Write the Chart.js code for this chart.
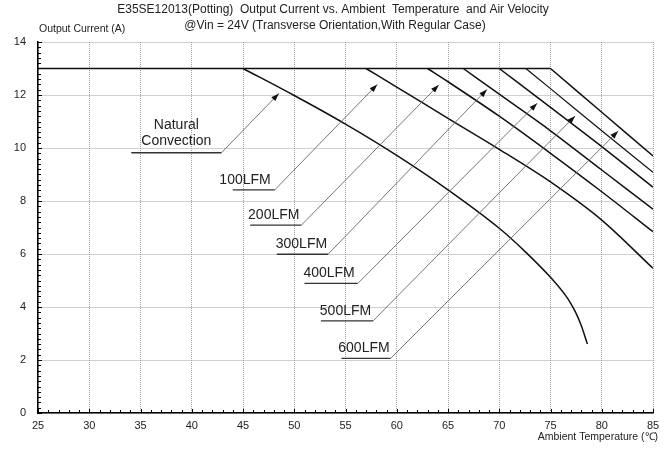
<!DOCTYPE html>
<html>
<head>
<meta charset="utf-8">
<script src="https://cdn.jsdelivr.net/npm/chart.js@4/dist/chart.umd.min.js"></script>
<style>
  body { margin: 0; background: #fff; }
  canvas { display: block; }
</style>
</head>
<body>
<canvas id="deratingChart" width="668" height="451"></canvas>
<script>
// derating curves (temp in degC, current in A)
const ratedTemp = [25, 75];
const ratedCurrent = [13, 13];

const naturalTemp = [45, 50, 55, 60, 65, 70, 72.5, 75, 76.5, 77, 77.5, 78, 78.6];
const naturalCurrent = [13, 11.98, 10.9, 9.72, 8.42, 6.97, 6.1, 5.12, 4.42, 4.12, 3.76, 3.3, 2.6];

const lfm100Temp = [57, 60, 65, 70, 75, 80, 85];
const lfm100Current = [13, 12.3, 11.12, 9.95, 8.72, 7.28, 5.46];

const lfm200Temp = [63, 65, 70, 75, 80, 85];
const lfm200Current = [13, 12.5, 11.2, 9.8, 8.35, 6.84];

const lfm300Temp = [66.5, 70, 75, 80, 85];
const lfm300Current = [13, 12.03, 10.65, 9.17, 7.69];

const lfm400Temp = [70, 75, 80, 85];
const lfm400Current = [13, 11.53, 10.05, 8.52];

const lfm500Temp = [72.6, 75, 80, 85];
const lfm500Current = [13, 12.24, 10.65, 9.08];

const lfm600Temp = [75, 80, 85];
const lfm600Current = [13, 11.35, 9.7];

const curveLabels = ["Natural Convection", "100LFM", "200LFM", "300LFM", "400LFM", "500LFM", "600LFM"];
const xTicks = [25, 30, 35, 40, 45, 50, 55, 60, 65, 70, 75, 80, 85];
const yTicks = [0, 2, 4, 6, 8, 10, 12, 14];

// callout placement (data units): underline from..to at level, arrow tip, text centre
const callouts = [
  { lines: ["Natural", "Convection"], from: 34.1, to: 42.9, at: 9.82, tipT: 48.5, tipI: 12.06, textT: 38.5 },
  { lines: ["100LFM"], from: 44.0, to: 48.1, at: 8.42, tipT: 58.1, tipI: 12.4, textT: 45.2 },
  { lines: ["200LFM"], from: 45.7, to: 50.7, at: 7.09, tipT: 64.1, tipI: 12.38, textT: 48.0 },
  { lines: ["300LFM"], from: 48.3, to: 53.3, at: 5.99, tipT: 68.8, tipI: 12.21, textT: 50.7 },
  { lines: ["400LFM"], from: 51.0, to: 56.2, at: 4.89, tipT: 73.7, tipI: 11.69, textT: 53.4 },
  { lines: ["500LFM"], from: 52.6, to: 57.7, at: 3.48, tipT: 77.4, tipI: 11.21, textT: 55.0 },
  { lines: ["600LFM"], from: 54.6, to: 59.4, at: 2.06, tipT: 81.6, tipI: 10.64, textT: 56.8 }
];

const FONT = "'Liberation Sans', Arial, sans-serif";

function pts(t, c) {
  return t.map((v, i) => ({ x: v, y: c[i] }));
}

function curve(label, t, c, width) {
  return {
    label: label,
    data: pts(t, c),
    borderColor: "#111",
    borderWidth: width || 1.5,
    pointRadius: 0,
    fill: false,
    cubicInterpolationMode: "monotone"
  };
}

const calloutPlugin = {
  id: "callouts",
  afterDatasetsDraw(chart) {
    const ctx = chart.ctx;
    const x = chart.scales.x, y = chart.scales.y;
    ctx.save();
    callouts.forEach(c => {
      const x0 = x.getPixelForValue(c.from);
      const x1 = x.getPixelForValue(c.to);
      const yy = y.getPixelForValue(c.at);
      const tx = x.getPixelForValue(c.tipT);
      const ty = y.getPixelForValue(c.tipI);

      ctx.setLineDash([]);
      ctx.strokeStyle = "#333";
      ctx.lineWidth = 1.3;
      ctx.beginPath();
      ctx.moveTo(x0, yy);
      ctx.lineTo(x1, yy);
      ctx.stroke();

      ctx.strokeStyle = "#666";
      ctx.lineWidth = 0.9;
      ctx.beginPath();
      ctx.moveTo(x1, yy);
      ctx.lineTo(tx, ty);
      ctx.stroke();

      // arrow head
      const ang = Math.atan2(ty - yy, tx - x1);
      const len = 8, half = 2.8;
      ctx.fillStyle = "#111";
      ctx.beginPath();
      ctx.moveTo(tx, ty);
      ctx.lineTo(tx - len * Math.cos(ang) + half * Math.sin(ang), ty - len * Math.sin(ang) - half * Math.cos(ang));
      ctx.lineTo(tx - len * Math.cos(ang) - half * Math.sin(ang), ty - len * Math.sin(ang) + half * Math.cos(ang));
      ctx.closePath();
      ctx.fill();

      ctx.fillStyle = "#222";
      ctx.font = "14px " + FONT;
      ctx.textAlign = "center";
      ctx.textBaseline = "alphabetic";
      const cx = x.getPixelForValue(c.textT);
      const n = c.lines.length;
      const base = n > 1 ? yy - 8 : yy - 6;
      c.lines.forEach((s, i) => {
        ctx.fillText(s, cx, base - (n - 1 - i) * 16);
      });
    });
    ctx.restore();
  }
};

const frameTextPlugin = {
  id: "frameText",
  afterDraw(chart) {
    const ctx = chart.ctx;
    const x = chart.scales.x, y = chart.scales.y;
    const area = chart.chartArea;
    ctx.save();

    // minor ticks pointing into the plot
    ctx.strokeStyle = "#000";
    ctx.lineWidth = 1;
    ctx.beginPath();
    for (let i = 0; i <= 70; i++) {
      const py = Math.round(y.getPixelForValue(i * 0.2)) + 0.5;
      ctx.moveTo(area.left, py);
      ctx.lineTo(area.left + (i % 10 === 0 ? 4 : 3), py);
    }
    for (let t = 25; t <= 85; t++) {
      const px = Math.round(x.getPixelForValue(t)) + 0.5;
      ctx.moveTo(px, area.bottom);
      ctx.lineTo(px, area.bottom - (t % 5 === 0 ? 4 : 3));
    }
    ctx.stroke();

    ctx.fillStyle = "#222";
    ctx.textBaseline = "middle";
    ctx.textAlign = "center";
    ctx.font = "12px " + FONT;
    ctx.fillText("E35SE12013(Potting)  Output Current vs. Ambient  Temperature  and Air Velocity", 333, 10);
    ctx.fillText("@Vin = 24V (Transverse Orientation,With Regular Case)", 335, 26);

    ctx.font = "10.5px " + FONT;
    ctx.textAlign = "left";
    ctx.fillText("Output Current (A)", 39, 29);
    ctx.textAlign = "right";
    ctx.fillText("Ambient Temperature (\u2103)", 658, 437);
    ctx.restore();
  }
};

new Chart(document.getElementById("deratingChart"), {
  type: "line",
  data: {
    datasets: [
      curve("Rated", ratedTemp, ratedCurrent),
      curve(curveLabels[0], naturalTemp, naturalCurrent),
      curve(curveLabels[1], lfm100Temp, lfm100Current),
      curve(curveLabels[2], lfm200Temp, lfm200Current),
      curve(curveLabels[3], lfm300Temp, lfm300Current),
      curve(curveLabels[4], lfm400Temp, lfm400Current),
      curve(curveLabels[5], lfm500Temp, lfm500Current, 1.2),
      curve(curveLabels[6], lfm600Temp, lfm600Current)
    ]
  },
  options: {
    responsive: false,
    animation: false,
    layout: { padding: { top: 42, right: 15, left: 0, bottom: 0 } },
    plugins: {
      legend: { display: false },
      tooltip: { enabled: false }
    },
    scales: {
      x: {
        type: "linear",
        min: 25,
        max: 85,
        afterBuildTicks: s => { s.ticks = xTicks.map(v => ({ value: v })); },
        afterFit: s => { s.height = 38; },
        ticks: { color: "#222", font: { family: FONT, size: 11 }, padding: 6, maxRotation: 0 },
        grid: { color: "#a0a0a0", lineWidth: 1, drawTicks: false },
        border: { display: true, color: "#000", width: 1.5, dash: [1, 1] }
      },
      y: {
        min: 0,
        max: 14,
        afterBuildTicks: s => { s.ticks = yTicks.map(v => ({ value: v })); },
        afterFit: s => { s.width = 38; },
        ticks: { color: "#222", font: { family: FONT, size: 11 }, padding: 12 },
        grid: { color: "#a0a0a0", lineWidth: 1, drawTicks: false },
        border: { display: true, color: "#000", width: 1.5, dash: [1, 1] }
      }
    }
  },
  plugins: [calloutPlugin, frameTextPlugin]
});
</script>
</body>
</html>
